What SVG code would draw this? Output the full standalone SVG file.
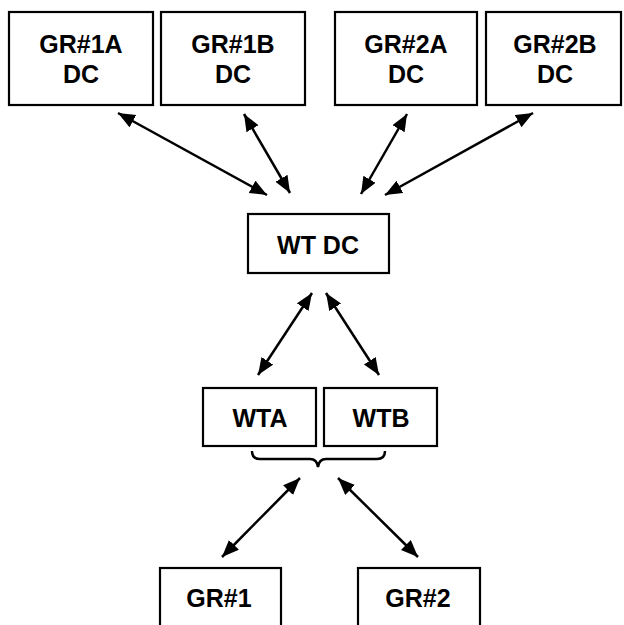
<svg xmlns="http://www.w3.org/2000/svg" width="624" height="625" viewBox="0 0 624 625">
<style>
.box{fill:#fff;stroke:#000;stroke-width:2.2}
.t{font-family:"Liberation Sans",Arial,sans-serif;font-weight:bold;font-size:25px;fill:#000;text-anchor:middle}
.c{stroke:#000;stroke-width:2.5;fill:none;marker-start:url(#ah);marker-end:url(#ah)}
.br{stroke:#000;stroke-width:2.5;fill:none}
</style>
<defs>
<marker id="ah" markerUnits="userSpaceOnUse" markerWidth="18" markerHeight="15" refX="17" refY="7" orient="auto-start-reverse">
<path d="M0,0 L17,7 L0,14 z" fill="#000"/>
</marker>
</defs>
<rect width="624" height="625" fill="#fff"/>
<g id="gr1a"><rect class="box" x="9" y="12" width="144" height="93"/><text class="t" x="81" y="53">GR#1A</text><text class="t" x="81" y="83">DC</text></g>
<g id="gr1b"><rect class="box" x="161" y="12" width="144" height="93"/><text class="t" x="233" y="53">GR#1B</text><text class="t" x="233" y="83">DC</text></g>
<g id="gr2a"><rect class="box" x="335" y="12" width="142" height="93"/><text class="t" x="406" y="53">GR#2A</text><text class="t" x="406" y="83">DC</text></g>
<g id="gr2b"><rect class="box" x="486" y="12" width="135" height="93"/><text class="t" x="555" y="53">GR#2B</text><text class="t" x="555" y="83">DC</text></g>
<g id="wtdc"><rect class="box" x="248" y="214" width="141" height="59"/><text class="t" x="318" y="254">WT DC</text></g>
<g id="wta"><rect class="box" x="203" y="388" width="113" height="58"/><text class="t" x="260" y="427">WTA</text></g>
<g id="wtb"><rect class="box" x="324" y="388" width="113" height="58"/><text class="t" x="381" y="427">WTB</text></g>
<g id="gr1"><rect class="box" x="160" y="568" width="121" height="80"/><text class="t" x="219" y="607">GR#1</text></g>
<g id="gr2"><rect class="box" x="358" y="568" width="122" height="80"/><text class="t" x="418" y="607">GR#2</text></g>
<g id="connectors">
<line class="c" x1="118" y1="113" x2="267" y2="195"/>
<line class="c" x1="244" y1="114" x2="290" y2="193"/>
<line class="c" x1="407" y1="114" x2="361" y2="194"/>
<line class="c" x1="533" y1="113" x2="385" y2="195"/>
<line class="c" x1="312" y1="293" x2="258" y2="375"/>
<line class="c" x1="326" y1="293" x2="379" y2="375"/>
<line class="c" x1="300" y1="478" x2="222" y2="557"/>
<line class="c" x1="338" y1="478" x2="418" y2="557"/>
<path class="br" d="M252,451 Q252,459 260,459 L310,459 Q317,459 318,467 Q319,459 326,459 L377,459 Q385,459 385,451"/>
</g>
</svg>
